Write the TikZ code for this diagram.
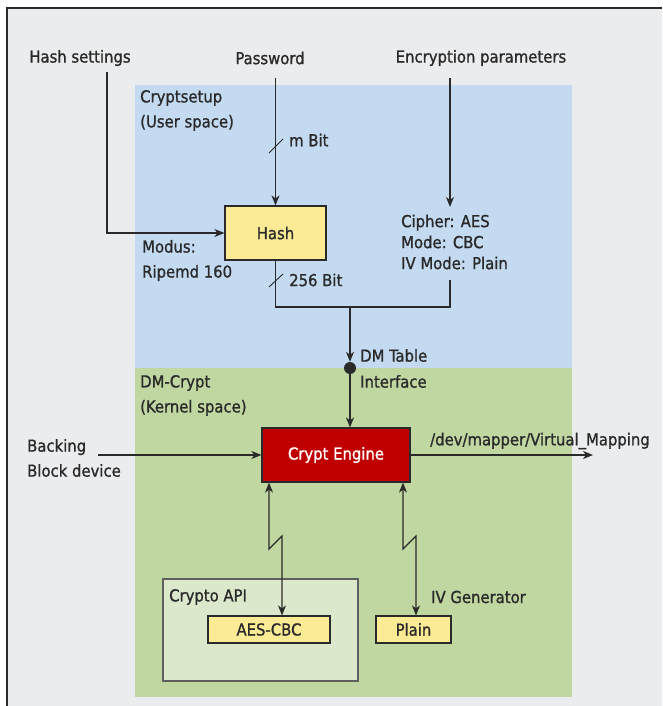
\documentclass[tikz,border=0pt]{standalone}
\usepackage{fontspec}
\setmainfont{DejaVu Sans Condensed}[FakeBold=1.1]
\usetikzlibrary{arrows.meta}
\definecolor{panel}{HTML}{EBECEE}
\definecolor{userblue}{HTML}{C3DAF0}
\definecolor{kernelgreen}{HTML}{C0D7A2}
\definecolor{apigreen}{HTML}{DCE8CC}
\definecolor{boxyellow}{HTML}{FCEB95}
\definecolor{cryptred}{HTML}{C00000}
\definecolor{ink}{HTML}{2A2A2A}
\tikzset{
  lbl/.style={inner sep=0pt, text=ink, align=left},
  box/.style={draw=ink, line width=1.2pt, inner sep=0pt, text=ink},
  conn/.style={draw=ink, line width=1.1pt},
  arr/.style={conn, -{Stealth[length=10pt,width=8pt,inset=3pt]}},
  darr/.style={conn, {Stealth[length=10pt,width=8pt,inset=3pt]}-{Stealth[length=10pt,width=8pt,inset=3pt]}},
  tick/.style={draw=ink, line width=0.9pt}
}
\begin{document}
\begin{tikzpicture}[x=1pt,y=-1pt,font=\fontsize{16.5}{25}\selectfont]
\useasboundingbox (0,0) rectangle (662,706);
\fill[panel] (7,8) rectangle (662,706);
\draw[ink, line width=1.5pt] (7,706) -- (7,8) -- (662,8);
\fill[userblue] (135,85) rectangle (572,368);
\fill[kernelgreen] (135,368) rectangle (572,697);

% labels
\node[lbl] (hs) at (80,58) {Hash settings};
\node[lbl] (pw) at (270,58) {Password};
\node[lbl] (ep) at (481,58) {Encryption parameters};
\node[lbl, anchor=west] (cs) at (140,110.5) {Cryptsetup\\(User space)};
\node[lbl, anchor=west] (mbit) at (289,140) {m Bit};
\node[lbl, anchor=west, font=\fontsize{16.5}{21}\selectfont] (cipher) at (401,242) {Cipher: AES\\Mode: CBC\\IV Mode: Plain};
\node[lbl, anchor=west] (modus) at (142,260.5) {Modus:\\Ripemd 160};
\node[lbl, anchor=west] (b256) at (289,280) {256 Bit};
\node[lbl, anchor=west, font=\fontsize{16.5}{26}\selectfont] (dmt) at (360,368.5) {DM Table\\Interface};
\node[lbl, anchor=west] (dmc) at (140,395.5) {DM-Crypt\\(Kernel space)};
\node[lbl, anchor=west] (back) at (27,458) {Backing\\Block device};
\node[lbl, anchor=west] (dev) at (430,441) {/dev/mapper/Virtual\_Mapping};

% boxes
\node[box, fill=boxyellow, minimum width=101pt, minimum height=54pt] (hash) at (275.5,233) {Hash};
\node[box, fill=cryptred, text=white, minimum width=148pt, minimum height=54pt] (engine) at (336,455) {Crypt Engine};
\node[draw=ink!75, line width=1.2pt, fill=apigreen, minimum width=195pt, minimum height=102pt, inner sep=0pt] (api) at (260.5,630) {};
\node[lbl, anchor=west] (apil) at (169,597) {Crypto API};
\node[box, fill=boxyellow, minimum width=122pt, minimum height=27pt] (aes) at (269,629.5) {AES-CBC};
\node[box, fill=boxyellow, minimum width=75pt, minimum height=27pt] (plain) at (413.5,629.5) {Plain};
\node[lbl, anchor=west] (ivg) at (431,597) {IV Generator};
\node[circle, fill=ink, minimum size=12pt, inner sep=0pt] (dot) at (350,368) {};

% coordinates
\coordinate (hsl) at (107,72);
\coordinate (pwl) at (275.5,78);
\coordinate (epl) at (450,78);
\coordinate (cipt) at (450,207);
\coordinate (cipb) at (450,280);
\coordinate (joinR) at (450,307);
\coordinate (joinM) at (350,307);
\coordinate (backl) at (98,455);
\coordinate (outr) at (593,455);
\coordinate (zl1) at (269,549);
\coordinate (zl2) at (282,536);
\coordinate (zr1) at (403,549);
\coordinate (zr2) at (416,536);

% connectors
\draw[arr] (hsl) |- (hash.west);
\draw[arr] (pwl) -- (hash.north);
\draw[tick] (269,153) -- (283,139);
\draw[arr] (epl) -- (cipt);
\draw[conn] (hash.south) |- (joinR) -- (cipb);
\draw[tick] (269,287) -- (283,274);
\draw[arr] (joinM) -- (dot.north);
\draw[arr] (dot.center) -- (dot |- engine.north);
\draw[arr] (backl) -- (engine.west);
\draw[arr] (engine.east) -- (outr);
\draw[darr] (engine.south -| zl1) -- (zl1) -- (zl2) -- (aes.north -| zl2);
\draw[darr] (engine.south -| zr1) -- (zr1) -- (zr2) -- (plain.north -| zr2);
\end{tikzpicture}
\end{document}
